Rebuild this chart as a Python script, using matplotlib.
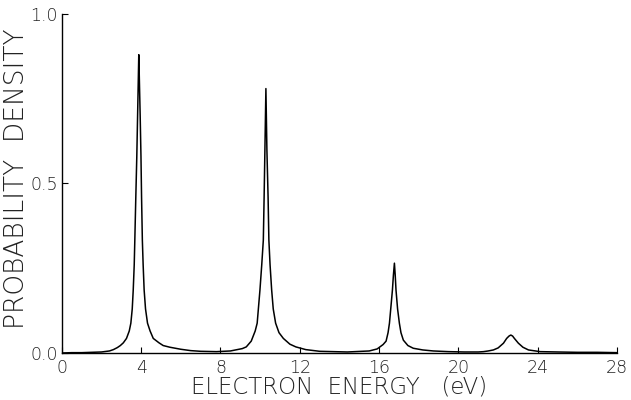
import matplotlib
matplotlib.use("Agg")
import matplotlib.pyplot as plt

# curve, (energy eV, probability density)
energy = [
    0.0, 0.5, 1.0, 1.5, 2.0, 2.4, 2.6, 2.8, 2.95, 3.1, 3.26, 3.40, 3.48, 3.55,
    3.60, 3.65, 3.68, 3.73, 3.78, 3.82, 3.86, 3.88, 3.90, 3.95, 3.99, 4.02,
    4.06, 4.10, 4.15, 4.22, 4.32, 4.45, 4.61, 4.9, 5.11, 5.45, 6.0, 6.5, 7.0,
    7.8, 8.5, 9.1, 9.3, 9.55, 9.75, 9.85, 9.99, 10.08, 10.16, 10.20, 10.24,
    10.29, 10.34, 10.40, 10.44, 10.50, 10.58, 10.66, 10.78, 10.95, 11.17,
    11.5, 11.8, 12.3, 13.0, 14.4, 15.5, 15.9, 16.2, 16.35, 16.45, 16.52, 16.60,
    16.67, 16.72, 16.77, 16.81, 16.85, 16.93, 17.02, 17.10, 17.22, 17.45,
    17.72, 18.2, 18.73, 19.5, 20.3, 21.0, 21.26, 21.5, 21.76, 22.0, 22.27,
    22.43, 22.55, 22.64, 22.73, 22.82, 23.02, 23.25, 23.53, 24.12, 25.0, 26.0,
    27.0, 28.0,
]
density = [
    0.000, 0.001, 0.001, 0.002, 0.003, 0.006, 0.010, 0.016, 0.022, 0.030,
    0.043, 0.065, 0.088, 0.13, 0.186, 0.26, 0.333, 0.46, 0.58, 0.70, 0.82,
    0.88, 0.83, 0.70, 0.58, 0.46, 0.333, 0.26, 0.186, 0.13, 0.088, 0.065,
    0.043, 0.030, 0.022, 0.017, 0.011, 0.007, 0.005, 0.004, 0.006, 0.013,
    0.018, 0.035, 0.065, 0.088, 0.186, 0.26, 0.333, 0.46, 0.60, 0.78, 0.60,
    0.46, 0.333, 0.26, 0.186, 0.13, 0.088, 0.060, 0.043, 0.026, 0.018, 0.010,
    0.005, 0.003, 0.006, 0.012, 0.025, 0.035, 0.060, 0.088, 0.14, 0.186,
    0.23, 0.265, 0.23, 0.186, 0.13, 0.088, 0.060, 0.038, 0.022, 0.014, 0.009,
    0.006, 0.004, 0.003, 0.003, 0.004, 0.006, 0.009, 0.015, 0.029, 0.043,
    0.050, 0.053, 0.050, 0.043, 0.029, 0.017, 0.009, 0.004, 0.003, 0.002,
    0.002, 0.001,
]

x_ticks = [0, 4, 8, 12, 16, 20, 24, 28]
y_ticks = [0.0, 0.5, 1.0]
y_tick_labels = ["0.0", "0.5", "1.0"]

plt.rcParams["font.family"] = ["DejaVu Sans"]

fig = plt.figure(figsize=(6.31, 4.0), dpi=100)
ax = fig.add_axes([0.098, 0.1175, 0.88, 0.8475])

ax.plot(energy, density, color="black", linewidth=1.1)

ax.set_xlim(0, 28)
ax.set_ylim(0, 1.0)
ax.set_xticks(x_ticks)
ax.set_yticks(y_ticks)
ax.set_yticklabels(y_tick_labels)
ax.tick_params(direction="in", length=4, width=0.8, labelsize=12.5,
               colors="black", labelcolor="#222222")
ax.tick_params(axis="x", pad=4)
ax.tick_params(axis="y", pad=3)
for lbl in ax.get_xticklabels() + ax.get_yticklabels():
    lbl.set_fontweight("light")

for side in ("top", "right"):
    ax.spines[side].set_visible(False)
for side in ("left", "bottom"):
    ax.spines[side].set_linewidth(1.0)

ax.set_xlabel("ELECTRON  ENERGY   (eV)", fontsize=16.5, fontweight="light",
              color="#222222")
ax.set_ylabel("PROBABILITY  DENSITY", fontsize=19, fontweight="light",
              color="#222222")
ax.xaxis.set_label_coords(0.50, -0.065, transform=ax.transAxes)
ax.xaxis.label.set_va("top")
ax.yaxis.set_label_coords(-0.06, 0.515, transform=ax.transAxes)

fig.savefig("out.png", dpi=100)
